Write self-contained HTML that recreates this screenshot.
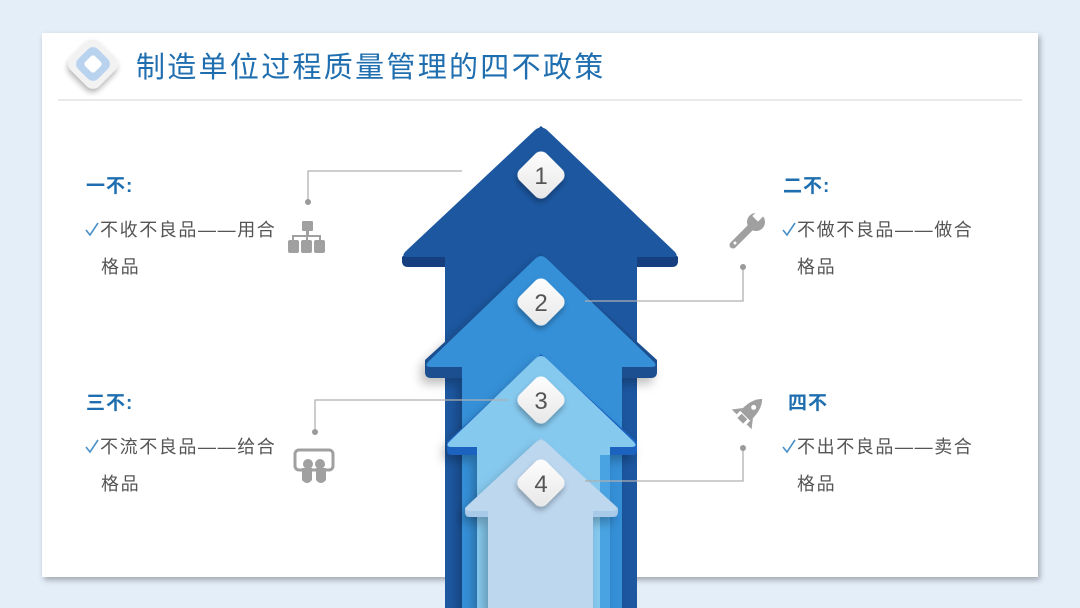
<!DOCTYPE html>
<html><head><meta charset="utf-8">
<style>
html,body{margin:0;padding:0;width:1080px;height:608px;overflow:hidden;background:#e4eef9;}
svg{display:block;font-family:"Liberation Sans","Noto Sans CJK SC",sans-serif;}
</style></head><body>
<svg width="1080" height="608" viewBox="0 0 1080 608" xmlns="http://www.w3.org/2000/svg">
<defs>
<filter id="sh" x="-30%" y="-30%" width="160%" height="160%"><feDropShadow dx="2" dy="3" stdDeviation="3" flood-color="#000" flood-opacity="0.3"/></filter>
<filter id="sh2" x="-20%" y="-20%" width="140%" height="140%"><feDropShadow dx="-4" dy="6" stdDeviation="5" flood-color="#000" flood-opacity="0.25"/></filter>
<linearGradient id="dg" x1="0" y1="0" x2="1" y2="1"><stop offset="0" stop-color="#ffffff"/><stop offset="1" stop-color="#e6e6e6"/></linearGradient>
</defs>
<rect x="0" y="0" width="1080" height="608" fill="#e4eef9"/>
<rect x="42" y="33" width="996" height="544" fill="#fff" filter="url(#sh)"/>
<line x1="58" y1="100" x2="1022" y2="100" stroke="#e3e3e3" stroke-width="1.5"/>
<g transform="translate(93,64) rotate(45)">
<rect x="-20" y="-20" width="40" height="40" rx="9" fill="#f2f2f2" filter="url(#sh)"/>
<rect x="-14" y="-14" width="28" height="28" rx="7" fill="#b9d3ee"/>
<rect x="-7" y="-7" width="14" height="14" rx="3" fill="#fff"/>
</g>
<text x="136" y="77" font-size="29" letter-spacing="2.3" fill="#1f6fb0">制造单位过程质量管理的四不政策</text>

<!-- arrow 1 -->
<path d="M445,608 V267 H408 Q402,267 402,261 V257 L541,126 L678,257 V261 Q678,267 672,267 H637 V608 Z" fill="#153f7f"/>
<path d="M445,608 V257 H408 Q400,257 406,251 L535,130 Q541,125 547,130 L674,251 Q680,257 672,257 H637 V608 Z" fill="#1c57a0"/>
<g filter="url(#sh2)">
<path d="M462,608 V378 H431 Q425,378 425,372 V360 L541,254 L657,360 V372 Q657,378 651,378 H622 V608 Z" fill="#1b4f90"/>
<path d="M462,608 V367 H431 Q423,367 429,361 L535,259 Q541,253 547,259 L653,361 Q659,367 651,367 H622 V608 Z" fill="#3690d8"/>
</g>
<g filter="url(#sh2)">
<path d="M477,608 V455 H452 Q447,455 447,450 V442 L541,354 L637,442 V450 Q637,455 632,455 H610 V608 Z" fill="#1a64c0"/>
<path d="M477,608 V447 H452 Q444,447 450,441 L535,359 Q541,353 547,359 L633,441 Q639,447 631,447 H610 V608 Z" fill="#86c9ef"/>
<rect x="600" y="455" width="10" height="153" fill="#4aa3e3"/>
</g>
<g filter="url(#sh2)">
<path d="M488,608 V517 H470 Q465,517 465,512 V508 L541,438 L618,508 V512 Q618,517 613,517 H593 V608 Z" fill="#a9c9e8"/>
<path d="M488,608 V511 H470 Q462,511 468,505 L535,443 Q541,437 547,443 L614,505 Q620,511 612,511 H593 V608 Z" fill="#bdd7ef"/>
</g>

<!-- connectors -->
<g stroke="#b0b0b0" stroke-width="1.3" fill="none">
<polyline points="462,171 308,171 308,202"/>
<polyline points="585,301 743,301 743,267"/>
<polyline points="508,400 315,400 315,432"/>
<polyline points="585,481 743,481 743,448"/>
</g>
<g fill="#9a9a9a"><circle cx="308" cy="202" r="3"/><circle cx="743" cy="267" r="3"/><circle cx="315" cy="432" r="3"/><circle cx="743" cy="448" r="3"/></g>

<g font-size="24" fill="#555" text-anchor="middle">
<g transform="translate(541,175)"><rect x="-19" y="-19" width="38" height="38" rx="8" transform="rotate(45)" fill="url(#dg)" filter="url(#sh)"/><text y="9">1</text></g>
<g transform="translate(541,302)"><rect x="-19" y="-19" width="38" height="38" rx="8" transform="rotate(45)" fill="url(#dg)" filter="url(#sh)"/><text y="9">2</text></g>
<g transform="translate(541,400)"><rect x="-19" y="-19" width="38" height="38" rx="8" transform="rotate(45)" fill="url(#dg)" filter="url(#sh)"/><text y="9">3</text></g>
<g transform="translate(541,483)"><rect x="-19" y="-19" width="38" height="38" rx="8" transform="rotate(45)" fill="url(#dg)" filter="url(#sh)"/><text y="9">4</text></g>
</g>

<g fill="#a0a0a0">
<rect x="302" y="221" width="11" height="10" rx="1"/>
<rect x="306" y="231" width="3" height="5"/>
<rect x="292" y="235" width="29" height="2"/>
<rect x="292" y="235" width="2" height="6"/><rect x="306" y="235" width="2" height="6"/><rect x="319" y="235" width="2" height="6"/>
<rect x="288" y="240" width="11" height="13" rx="2"/><rect x="301" y="240" width="11" height="13" rx="2"/><rect x="314" y="240" width="11" height="13" rx="2"/>
<rect x="295" y="450" width="38" height="20" rx="4" fill="none" stroke="#a0a0a0" stroke-width="3"/>
<circle cx="308" cy="464" r="5"/><circle cx="320" cy="464" r="5"/>
<path d="M302,468 h10 v12 q-5,6 -10,0z M316,468 h10 v12 q-5,6 -10,0z"/>
<!-- wrench -->
<line x1="733" y1="245" x2="751" y2="227" stroke="#a0a0a0" stroke-width="7" stroke-linecap="round"/>
<circle cx="756" cy="222" r="9"/>
<rect x="754" y="206" width="8" height="14" fill="#fff" transform="rotate(45 758 216)"/>
<circle cx="735" cy="243" r="1.5" fill="#fff"/>
<g transform="translate(748,413) rotate(45)">
<path d="M0,-20 q8,8 7,24 h-14 q-1,-16 7,-24z"/>
<path d="M-7,0 l-7,9 h7z M7,0 l7,9 h-7z"/>
<rect x="-4" y="5" width="8" height="6"/>
<circle cx="0" cy="-8" r="2.5" fill="#fff"/>
</g>
</g>

<g font-size="19" fill="#1f6fb0" font-weight="bold" letter-spacing="1">
<text x="86" y="192">一不:</text>
<text x="783" y="192">二不:</text>
<text x="86" y="409">三不:</text>
<text x="788" y="409">四不</text>
</g>
<g stroke="#4a90c8" stroke-width="1.6" fill="none">
<polyline points="86,230 90,235 98,223"/>
<polyline points="783,230 787,235 795,223"/>
<polyline points="86,447 90,452 98,440"/>
<polyline points="783,447 787,452 795,440"/>
</g>
<g font-size="18" fill="#555" letter-spacing="1.6">
<text x="100" y="236">不收不良品——用合</text>
<text x="101" y="273">格品</text>
<text x="797" y="236">不做不良品——做合</text>
<text x="797" y="273">格品</text>
<text x="100" y="453">不流不良品——给合</text>
<text x="101" y="490">格品</text>
<text x="797" y="453">不出不良品——卖合</text>
<text x="797" y="490">格品</text>
</g>
</svg>
</body></html>
